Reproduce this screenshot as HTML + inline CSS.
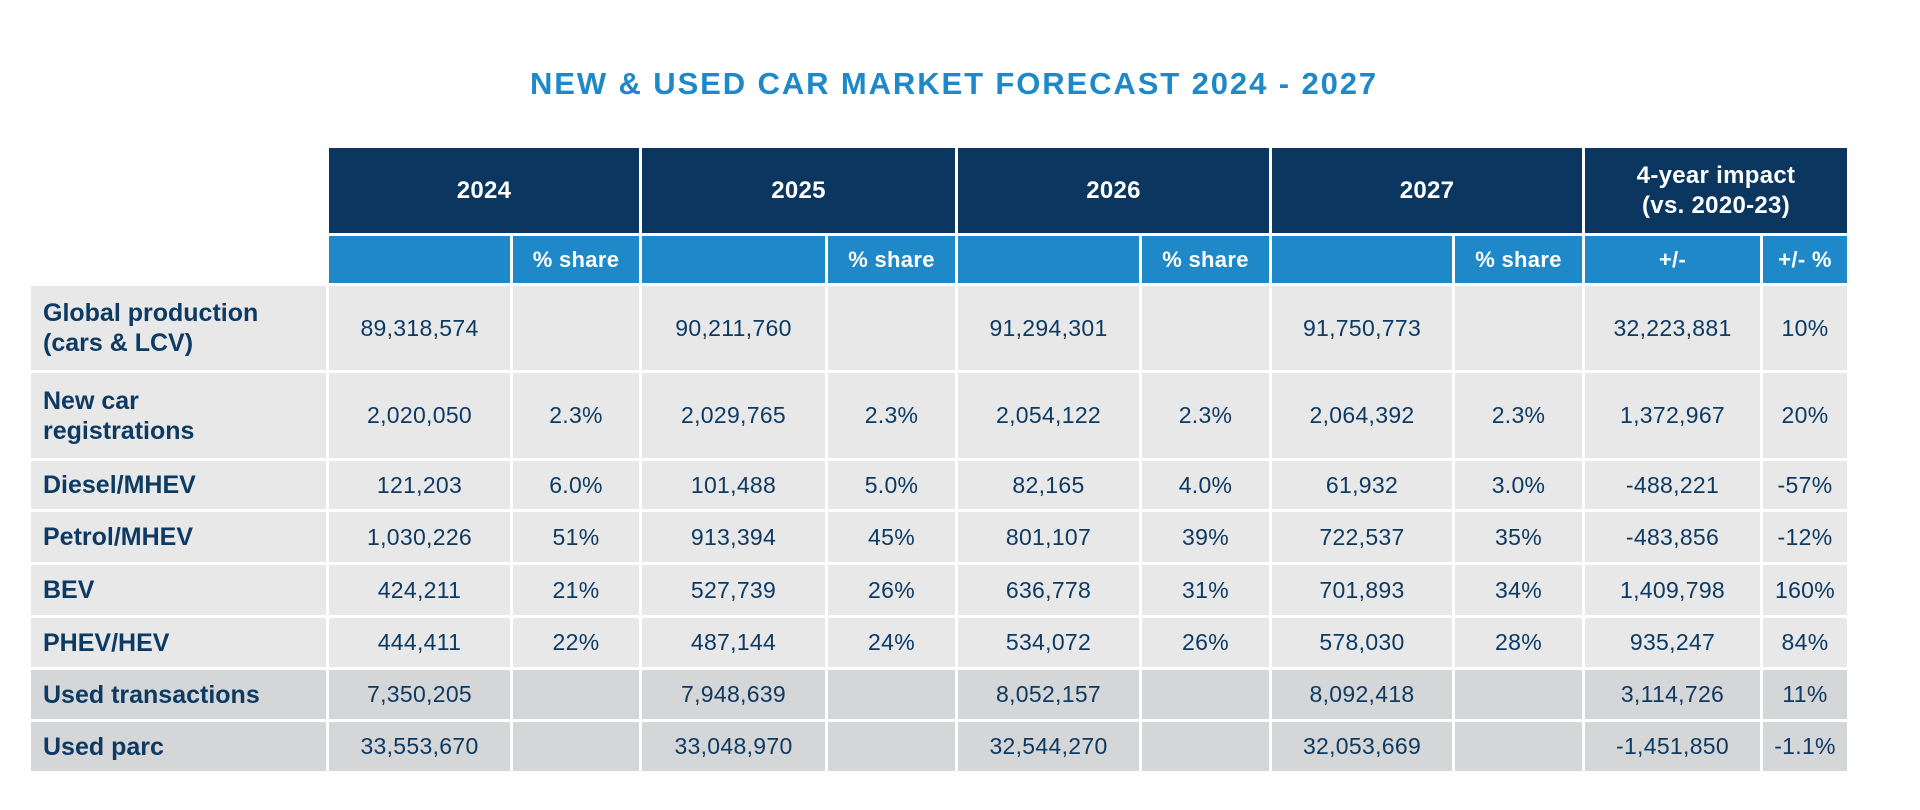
<!DOCTYPE html>
<html><head><meta charset="utf-8"><style>
html,body{margin:0;padding:0;background:#fff;}
body{width:1920px;height:810px;position:relative;overflow:hidden;font-family:"Liberation Sans",sans-serif;}
.title{position:absolute;left:0;width:1908px;top:66px;text-align:center;font-size:31px;font-weight:bold;color:#1e88c8;letter-spacing:1.9px;}
.grid{position:absolute;left:31px;top:148px;display:grid;
grid-template-columns:295px 181px 126px 183px 127px 181px 127px 180px 127px 175px 84px;
grid-template-rows:85px 47px 84px 85px 48px 50px 50px 49px 49px 49px;gap:3px;}
.grid div{display:flex;align-items:center;justify-content:center;background:#e8e8e9;color:#0d3a63;font-size:23px;letter-spacing:0.3px;}
.grid div.e{background:transparent;}
.grid div.h{background:#0a365f;color:#fff;font-weight:bold;font-size:24px;grid-column:span 2;text-align:center;line-height:30px;}
.grid div.s{background:#1e88c8;color:#fff;font-weight:bold;font-size:22px;}
.grid div.l{justify-content:flex-start;padding-left:12px;font-weight:bold;font-size:25px;line-height:30px;letter-spacing:0;}
.grid div.u{background:#d5d6d8;}
</style></head><body>
<div class="title">NEW &amp; USED CAR MARKET FORECAST 2024 - 2027</div>
<div class="grid">
<div class="e"></div><div class="h">2024</div><div class="h">2025</div><div class="h">2026</div><div class="h">2027</div><div class="h">4-year impact<br>(vs. 2020-23)</div>
<div class="e"></div><div class="s"></div><div class="s">% share</div><div class="s"></div><div class="s">% share</div><div class="s"></div><div class="s">% share</div><div class="s"></div><div class="s">% share</div><div class="s">+/-</div><div class="s">+/- %</div>
<div class="l">Global production<br>(cars &amp; LCV)</div><div>89,318,574</div><div></div><div>90,211,760</div><div></div><div>91,294,301</div><div></div><div>91,750,773</div><div></div><div>32,223,881</div><div>10%</div>
<div class="l">New car<br>registrations</div><div>2,020,050</div><div>2.3%</div><div>2,029,765</div><div>2.3%</div><div>2,054,122</div><div>2.3%</div><div>2,064,392</div><div>2.3%</div><div>1,372,967</div><div>20%</div>
<div class="l">Diesel/MHEV</div><div>121,203</div><div>6.0%</div><div>101,488</div><div>5.0%</div><div>82,165</div><div>4.0%</div><div>61,932</div><div>3.0%</div><div>-488,221</div><div>-57%</div>
<div class="l">Petrol/MHEV</div><div>1,030,226</div><div>51%</div><div>913,394</div><div>45%</div><div>801,107</div><div>39%</div><div>722,537</div><div>35%</div><div>-483,856</div><div>-12%</div>
<div class="l">BEV</div><div>424,211</div><div>21%</div><div>527,739</div><div>26%</div><div>636,778</div><div>31%</div><div>701,893</div><div>34%</div><div>1,409,798</div><div>160%</div>
<div class="l">PHEV/HEV</div><div>444,411</div><div>22%</div><div>487,144</div><div>24%</div><div>534,072</div><div>26%</div><div>578,030</div><div>28%</div><div>935,247</div><div>84%</div>
<div class="l u">Used transactions</div><div class="u">7,350,205</div><div class="u"></div><div class="u">7,948,639</div><div class="u"></div><div class="u">8,052,157</div><div class="u"></div><div class="u">8,092,418</div><div class="u"></div><div class="u">3,114,726</div><div class="u">11%</div>
<div class="l u">Used parc</div><div class="u">33,553,670</div><div class="u"></div><div class="u">33,048,970</div><div class="u"></div><div class="u">32,544,270</div><div class="u"></div><div class="u">32,053,669</div><div class="u"></div><div class="u">-1,451,850</div><div class="u">-1.1%</div>
</div>
</body></html>
